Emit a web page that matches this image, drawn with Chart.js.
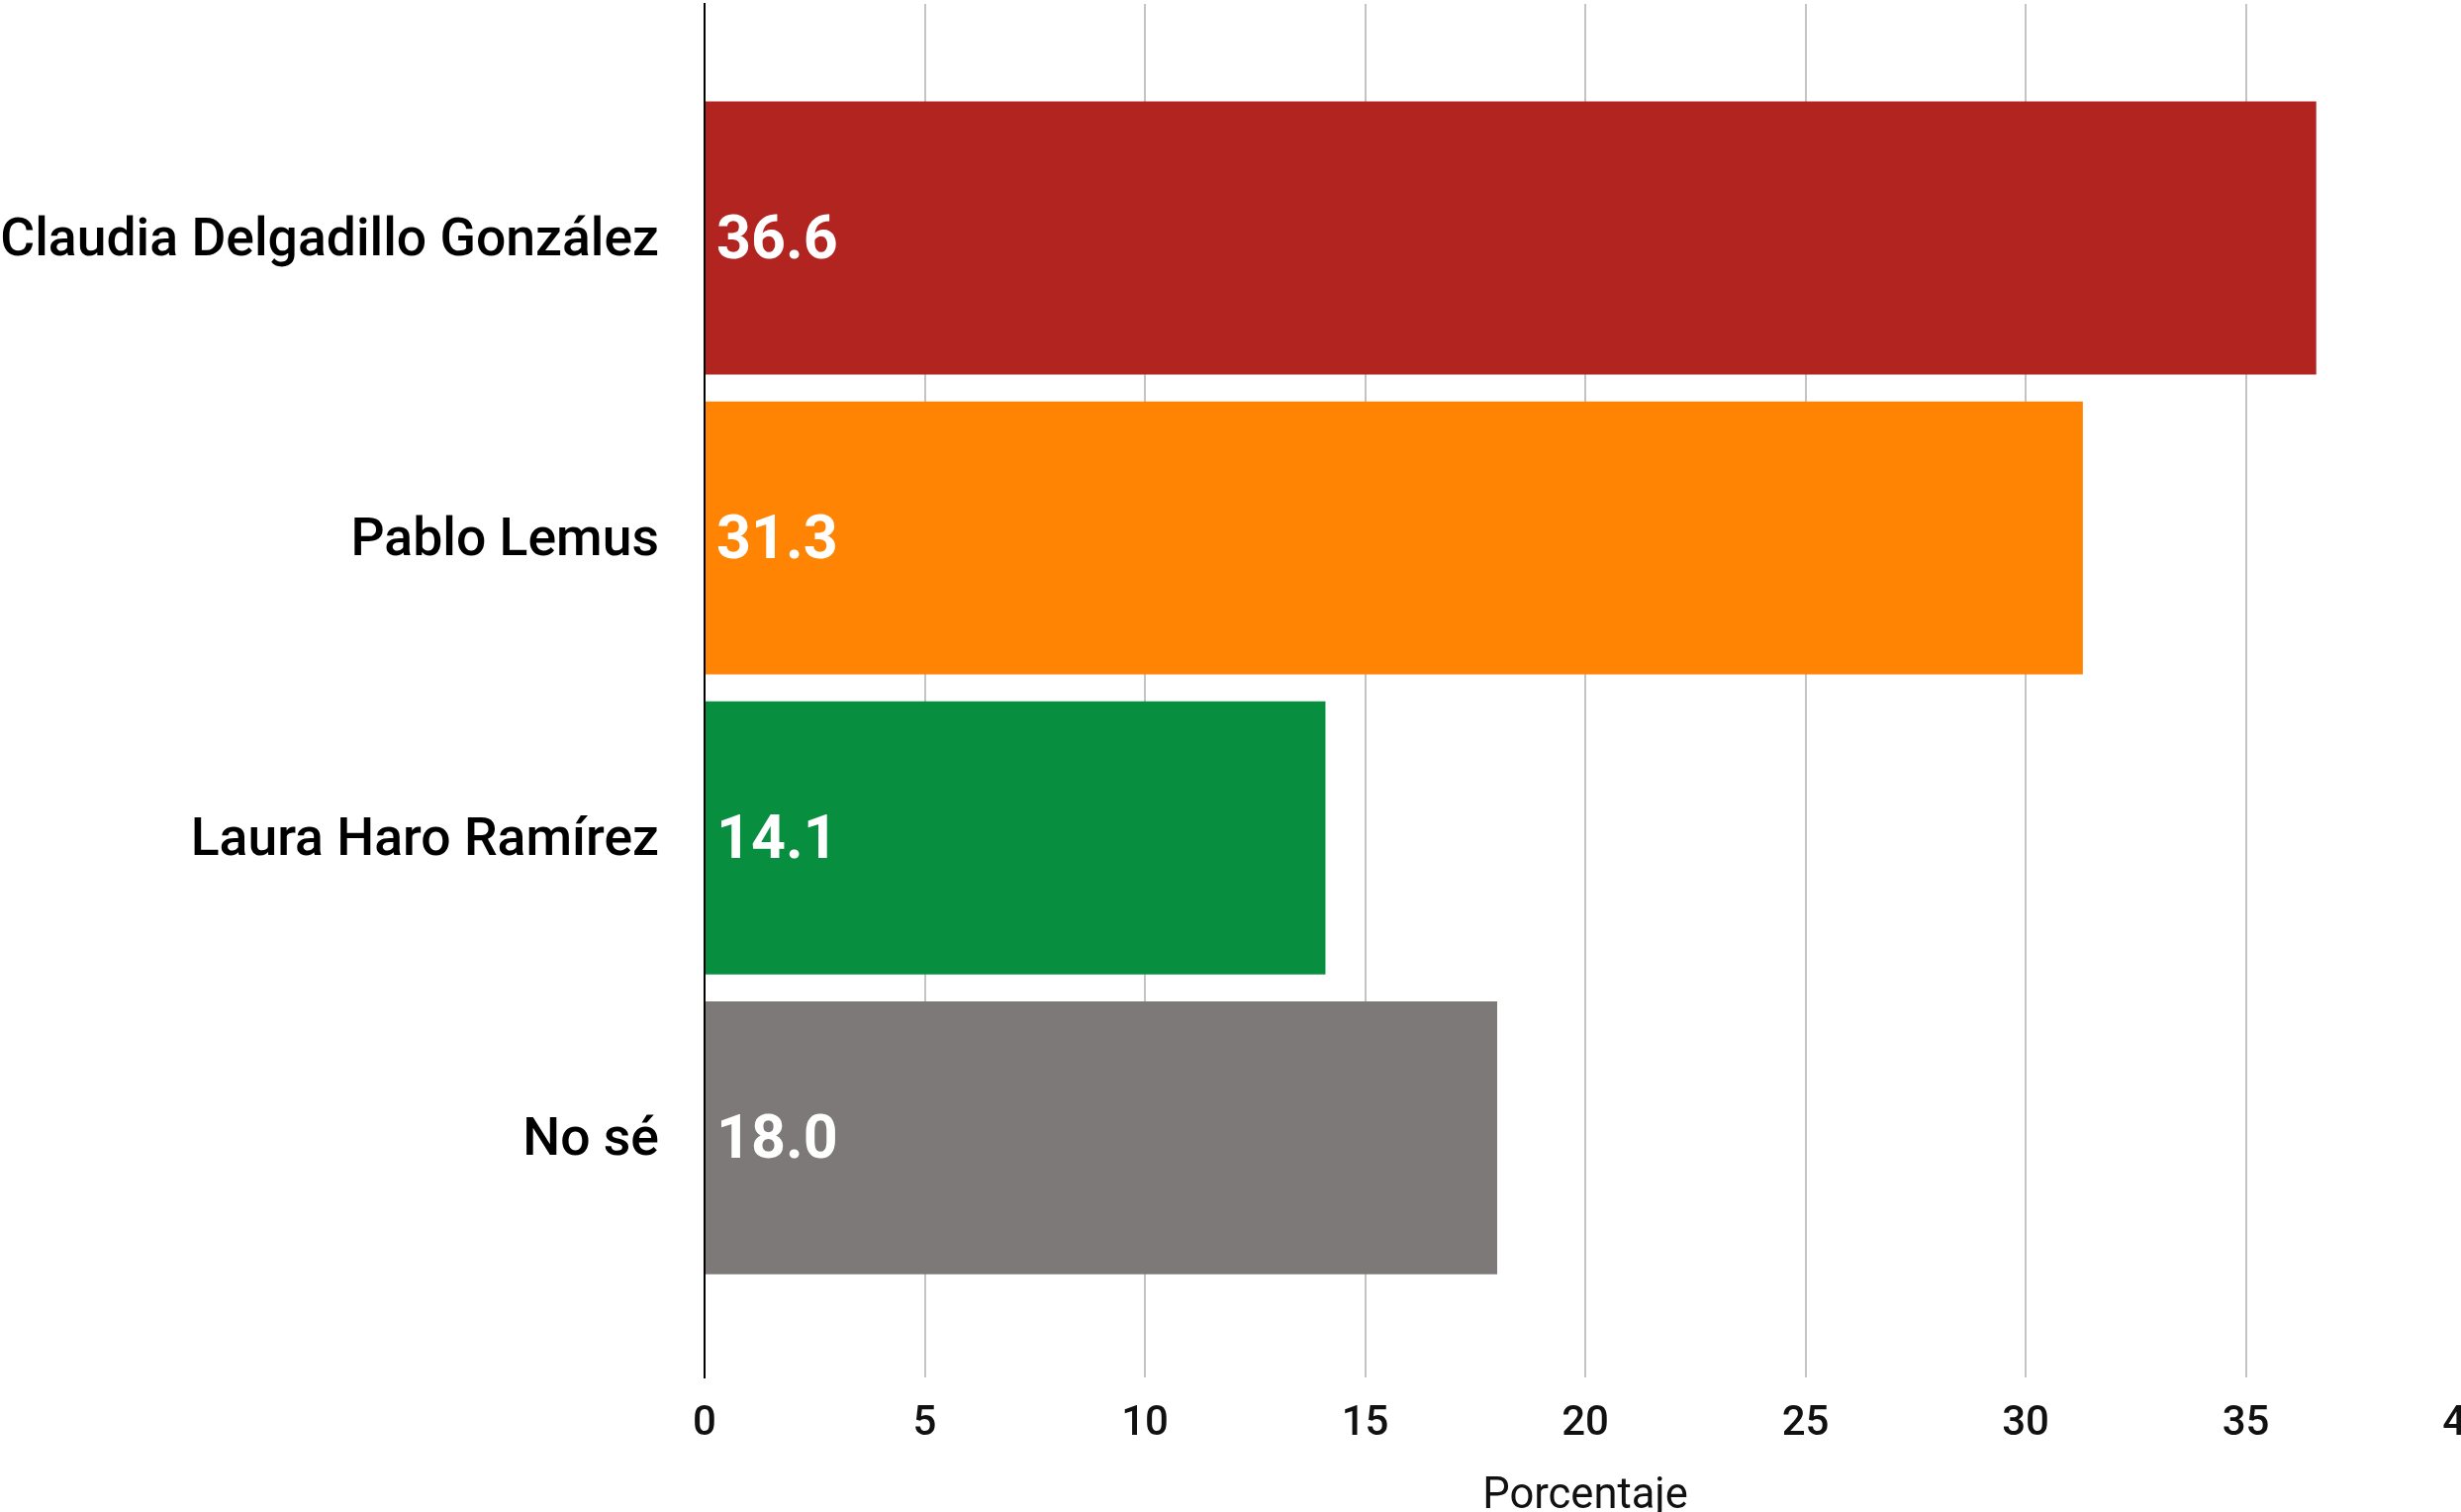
<!DOCTYPE html>
<html>
<head>
<meta charset="utf-8">
<script src="https://cdn.jsdelivr.net/npm/chart.js@4"></script>
<style>
    html, body { margin: 0; padding: 0; background: #fff; overflow: hidden; }
    #wrap { width: 2487px; height: 1528px; overflow: hidden; }
    canvas { display: block; }
</style>
</head>
<body>
<div id="wrap">
    <canvas id="myChart" width="2492" height="1539"></canvas>
</div>
<script>
const candidates = ["Claudia Delgadillo González", "Pablo Lemus", "Laura Haro Ramírez", "No sé"];
const percentages = [36.6, 31.3, 14.1, 18.0];
const barColors = ["#B2241F", "#FF8404", "#078F3F", "#7D7979"];
const xTicks = [0, 5, 10, 15, 20, 25, 30, 35, 40];

document.addEventListener('DOMContentLoaded', () => {
    // white value written inside each bar, just right of the axis
    const valueLabels = {
        id: 'valueLabels',
        afterDatasetsDraw(chart) {
            const ctx = chart.ctx;
            const meta = chart.getDatasetMeta(0);
            ctx.save();
            ctx.fillStyle = '#fff';
            ctx.font = '700 61px Roboto';
            ctx.textAlign = 'left';
            ctx.textBaseline = 'middle';
            meta.data.forEach((bar, i) => {
                ctx.fillText(percentages[i].toFixed(1), bar.base + 11, bar.y + 5);
            });
            ctx.restore();
        }
    };

    const ctx = document.getElementById('myChart').getContext('2d');
    new Chart(ctx, {
        type: 'bar',
        data: {
            datasets: [{
                data: percentages.map((v, i) => ({ x: v, y: i })),
                backgroundColor: barColors,
                barPercentage: 0.91,
                categoryPercentage: 1
            }]
        },
        options: {
            indexAxis: 'y',
            responsive: false,
            animation: false,
            layout: { padding: { top: 4, left: 0, right: 0, bottom: 0 } },
            plugins: {
                legend: { display: false },
                tooltip: { enabled: false }
            },
            scales: {
                x: {
                    type: 'linear',
                    min: 0,
                    max: 40,
                    afterBuildTicks: scale => {
                        scale.ticks = xTicks.map(v => ({ value: v }));
                    },
                    afterFit: scale => {
                        scale.paddingLeft = 0;
                        scale.paddingRight = 0;
                    },
                    grid: { color: '#C4C4C4', lineWidth: 2, drawTicks: false },
                    border: { display: false },
                    ticks: {
                        color: '#111',
                        padding: 22,
                        font: { family: 'Roboto', size: 42, weight: '500' }
                    },
                    title: {
                        display: true,
                        text: 'Porcentaje',
                        color: '#111',
                        padding: { top: 0, bottom: 0 },
                        font: { family: 'Roboto', size: 43.5, weight: '400' }
                    }
                },
                y: {
                    type: 'linear',
                    offset: false,
                    reverse: true,
                    min: -0.78,
                    max: 3.8,
                    afterBuildTicks: scale => {
                        scale.ticks = candidates.map((c, i) => ({ value: i }));
                    },
                    afterFit: scale => {
                        scale.width = 712;
                        scale.paddingTop = 0;
                        scale.paddingBottom = 0;
                    },
                    grid: { display: false, drawTicks: false, offset: false },
                    border: { display: true, color: '#000', width: 2 },
                    ticks: {
                        color: '#000',
                        padding: 46,
                        labelOffset: 4,
                        autoSkip: false,
                        callback: v => candidates[v] ?? '',
                        font: { family: 'Roboto', size: 53.5, weight: '500' }
                    }
                }
            }
        },
        plugins: [valueLabels]
    });
});
</script>
</body>
</html>
